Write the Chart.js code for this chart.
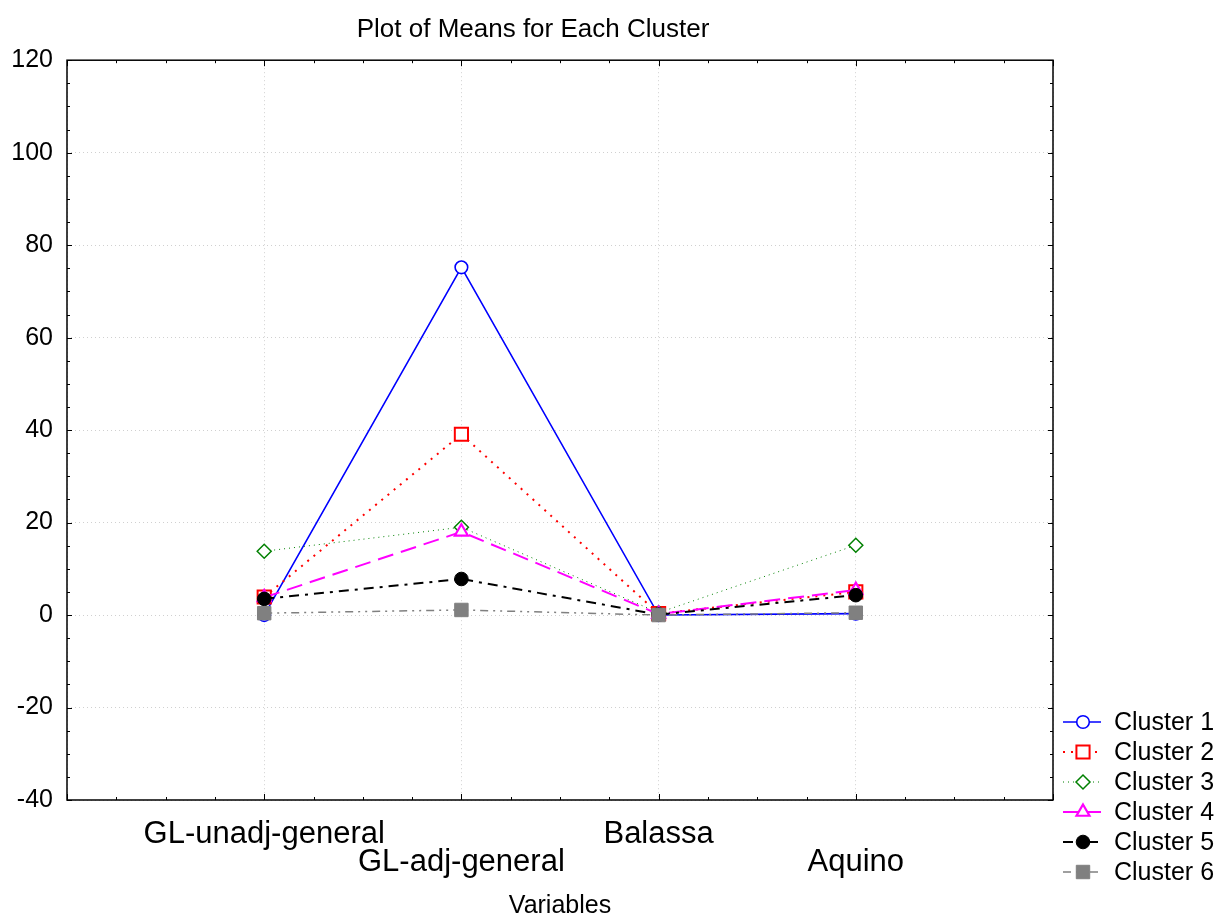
<!DOCTYPE html>
<html>
<head>
<meta charset="utf-8">
<script src="https://cdn.jsdelivr.net/npm/chart.js@4/dist/chart.umd.min.js"></script>
<style>
html,body{margin:0;padding:0;background:#fff;}
#wrap{width:1223px;height:921px;position:relative;}
</style>
</head>
<body>
<div id="wrap"><canvas id="c"></canvas></div>
<script>
const categories = ['GL-unadj-general', 'GL-adj-general', 'Balassa', 'Aquino'];
const seriesNames = ['Cluster 1', 'Cluster 2', 'Cluster 3', 'Cluster 4', 'Cluster 5', 'Cluster 6'];
const cluster1 = [0.0, 75.2, 0.0, 0.3];
const cluster2 = [3.9, 39.1, 0.3, 5.0];
const cluster3 = [13.8, 19.0, 0.5, 15.1];
const cluster4 = [3.8, 18.0, 0.2, 5.4];
const cluster5 = [3.5, 7.8, 0.1, 4.3];
const cluster6 = [0.4, 1.1, 0.0, 0.5];
const yTicks = [-40, -20, 0, 20, 40, 60, 80, 100, 120];

const FONT = '"Liberation Sans", Arial, sans-serif';

function pts(arr){ return arr.map((v,i)=>({x:i, y:v})); }

const styles = [
  {color:'#0000ff', dash:[], lw:1.6, ps:'circle', r:6.3, bg:'#ffffff', bw:1.6},
  {color:'#ff0000', dash:[2,6], lw:2, ps:'rect', r:9.3, bg:'#ffffff', bw:2},
  {color:'#008000', dash:[1,4], lw:1, ps:'rectRot', r:7, bg:'#ffffff', bw:1.5},
  {color:'#ff00ff', dash:[16,8], lw:2, ps:'triangle', r:7.5, bg:'#ffffff', bw:2.2},
  {color:'#000000', dash:[10,6,3,6], lw:2, ps:'circle', r:6.8, bg:'#000000', bw:1},
  {color:'#808080', dash:[8,5,2,5,2,5], lw:1.5, ps:'rect', r:9.5, bg:'#808080', bw:1}
];
const allData = [cluster1, cluster2, cluster3, cluster4, cluster5, cluster6];

const datasets = allData.map((d,i)=>({
  label: seriesNames[i],
  data: pts(d),
  order: allData.length - 1 - i,
  borderColor: styles[i].color,
  borderDash: styles[i].dash,
  borderWidth: styles[i].lw,
  pointStyle: styles[i].ps,
  pointRadius: styles[i].r,
  pointBackgroundColor: styles[i].bg,
  pointBorderColor: styles[i].color,
  pointBorderWidth: styles[i].bw,
  fill: false,
  tension: 0
}));

const framePlugin = {
  id: 'frame',
  afterDraw(chart){
    const ctx = chart.ctx;
    const a = chart.chartArea;
    const xs = chart.scales.x, ys = chart.scales.y;
    ctx.save();
    ctx.strokeStyle = '#000';
    ctx.lineWidth = 1.5;
    ctx.setLineDash([]);
    ctx.strokeRect(a.left, a.top, a.right - a.left, a.bottom - a.top);
    ctx.lineWidth = 1;
    ctx.beginPath();
    for (let v = -40; v <= 120; v += 5) {
      const y = Math.round(ys.getPixelForValue(v)) + 0.5;
      const len = (v % 20 === 0) ? 5 : 3;
      ctx.moveTo(a.left, y); ctx.lineTo(a.left + len, y);
      ctx.moveTo(a.right, y); ctx.lineTo(a.right - len, y);
    }
    for (let k = -4; k <= 16; k++) {
      const v = k / 4;
      const x = Math.round(xs.getPixelForValue(v)) + 0.5;
      const len = (k % 4 === 0) ? 6 : 3;
      ctx.moveTo(x, a.bottom); ctx.lineTo(x, a.bottom - len);
      ctx.moveTo(x, a.top); ctx.lineTo(x, a.top + len);
    }
    ctx.stroke();

    // legend
    const lx0 = 1063, lx1 = 1101, mx = 1083, tx = 1114;
    chart.data.datasets.forEach((ds, i) => {
      const y = 722 + i * 30;
      ctx.save();
      ctx.strokeStyle = ds.borderColor;
      ctx.lineWidth = ds.borderWidth;
      ctx.setLineDash(ds.borderDash);
      ctx.beginPath();
      ctx.moveTo(lx0, y); ctx.lineTo(lx1, y);
      ctx.stroke();
      ctx.setLineDash([]);
      ctx.fillStyle = ds.pointBackgroundColor;
      ctx.strokeStyle = ds.pointBorderColor;
      ctx.lineWidth = ds.pointBorderWidth;
      Chart.helpers.drawPoint(ctx, {pointStyle: ds.pointStyle, radius: ds.pointRadius, rotation: 0, borderWidth: ds.pointBorderWidth}, mx, y);
      ctx.restore();
      ctx.fillStyle = '#000';
      ctx.font = '25px ' + FONT;
      ctx.textAlign = 'left';
      ctx.textBaseline = 'middle';
      ctx.fillText(ds.label, tx, y + 1);
    });
    ctx.restore();
  }
};

new Chart(document.getElementById('c'), {
  type: 'line',
  data: { datasets: datasets },
  plugins: [framePlugin],
  options: {
    responsive: true,
    maintainAspectRatio: false,
    animation: false,
    layout: { padding: { left: 13, right: 170, top: 0, bottom: 0 } },
    plugins: {
      legend: { display: false },
      tooltip: { enabled: false },
      title: {
        display: true,
        text: 'Plot of Means for Each Cluster',
        color: '#000',
        font: { family: FONT, size: 26, weight: 'normal', lineHeight: 1.2 },
        padding: { top: 14, bottom: 15 }
      }
    },
    scales: {
      x: {
        type: 'linear',
        min: -1, max: 4,
        afterBuildTicks: s => { s.ticks = [-1,0,1,2,3,4].map(v => ({value: v})); },
        afterFit: s => { s.height = 121; },
        grid: { color: '#d0d0d0', lineWidth: 1, drawTicks: false },
        border: { display: false, dash: [1, 3] },
        ticks: {
          padding: 20,
          color: '#000',
          maxRotation: 0,
          autoSkip: false,
          font: { family: FONT, size: 31, lineHeight: '28px' },
          callback: v => {
            const i = Math.round(v);
            if (i < 0 || i >= categories.length) return '';
            return (i % 2 === 1) ? ['', categories[i]] : categories[i];
          }
        },
        title: {
          display: true,
          text: 'Variables',
          color: '#000',
          font: { family: FONT, size: 25, lineHeight: 1.2 },
          padding: { top: 0, bottom: 0 }
        }
      },
      y: {
        min: -40, max: 120,
        afterBuildTicks: s => { s.ticks = yTicks.map(v => ({value: v})); },
        afterFit: s => { s.width = 54; },
        grid: { color: '#d0d0d0', lineWidth: 1, drawTicks: false },
        border: { display: false, dash: [1, 3] },
        ticks: {
          padding: 14,
          color: '#000',
          font: { family: FONT, size: 25 },
          callback: v => String(v)
        }
      }
    }
  }
});
</script>
</body>
</html>
